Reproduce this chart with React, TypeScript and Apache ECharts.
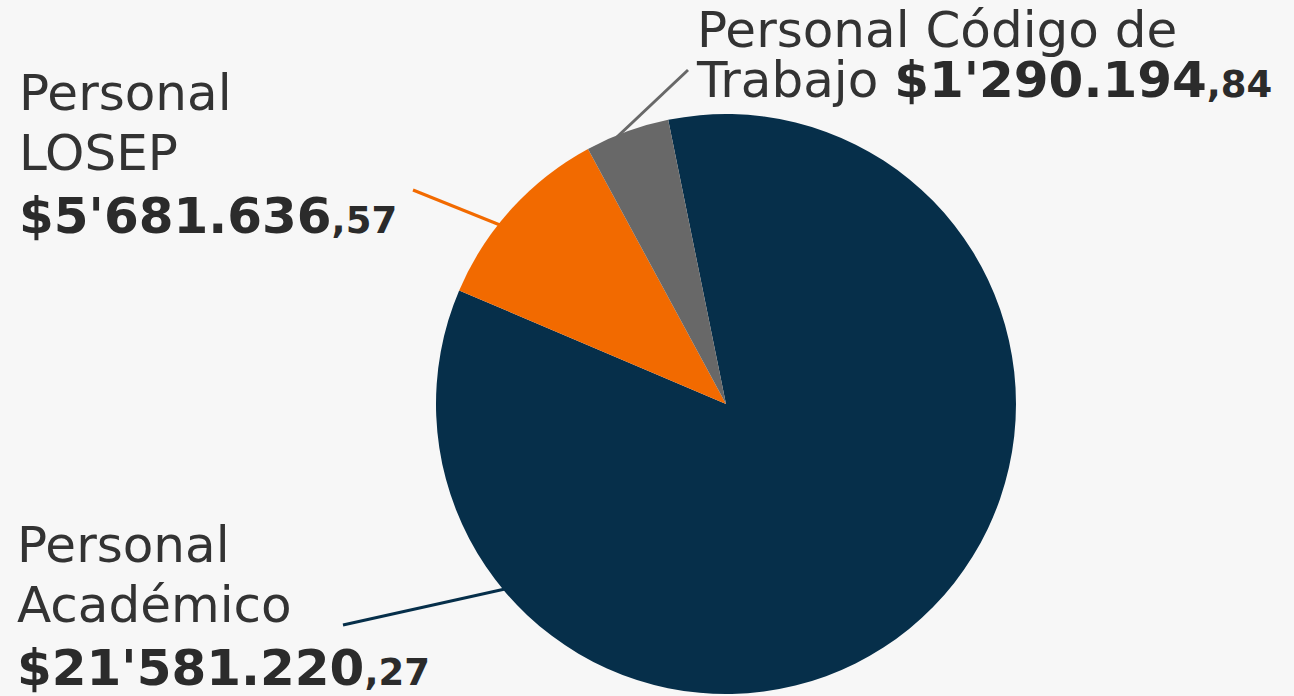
import React, { useEffect, useRef } from "react";
import * as echarts from "echarts";

// Categories (two-line names as printed)
const categories = ["Personal\nAcadémico", "Personal\nLOSEP", "Personal Código de\nTrabajo"];
// Amounts printed in the labels
const amountMain = ["$21'581.220", "$5'681.636", "$1'290.194"];
const amountCents = [",27", ",57", ",84"];
// Slice shares (%)
const sliceShare = [84.6, 10.7, 4.7];
const colors = ["#062f4a", "#f26a00", "#686868"];

// Label placement (layout only)
const labelPos = [
  { x: 17, y: 515, line: [[505, 589], [343, 625], [343, 625]] },
  { x: 19, y: 63, line: [[500, 225], [413, 190], [413, 190]] },
  { x: 697, y: 5, line: [[617, 137], [688, 70], [688, 70]] },
];

const FONT = "DejaVu Sans";
const TXT = "#333333";
const BOLD_TXT = "#2b2b2b";

export default function App() {
  const ref = useRef<HTMLDivElement>(null);
  useEffect(() => {
    document.body.style.margin = "0";
    const chart = echarts.init(ref.current!, undefined, { renderer: "svg" });
    const data = categories.map((name, i) => ({
      name,
      value: sliceShare[i],
      itemStyle: { color: colors[i] },
    }));
    chart.setOption({
      animation: false,
      backgroundColor: "#f7f7f7",
      series: [
        {
          type: "pie",
          center: [726, 404],
          radius: [0, 290],
          startAngle: 101.5,
          clockwise: true,
          avoidLabelOverlap: false,
          data,
          label: {
            show: true,
            position: "outside",
            fontFamily: FONT,
            formatter: (p: any) => {
              const i = p.dataIndex;
              const lines = categories[i].split("\n");
              if (i === 2) {
                return `{nc|${lines[0]}}\n{nc|${lines[1]} }{bc|${amountMain[i]}}{sc|${amountCents[i]}}`;
              }
              return `{n|${lines[0]}}\n{n|${lines[1]}}\n{b|${amountMain[i]}}{s|${amountCents[i]}}`;
            },
            rich: {
              n: { fontFamily: FONT, fontSize: 50, lineHeight: 60, color: TXT },
              b: { fontFamily: FONT, fontSize: 50, fontWeight: "bold", lineHeight: 66, color: BOLD_TXT },
              s: { fontFamily: FONT, fontSize: 37, fontWeight: "bold", lineHeight: 66, color: BOLD_TXT, padding: [9, 0, 0, 0] },
              nc: { fontFamily: FONT, fontSize: 50, lineHeight: 50, color: TXT },
              bc: { fontFamily: FONT, fontSize: 50, fontWeight: "bold", lineHeight: 50, color: BOLD_TXT },
              sc: { fontFamily: FONT, fontSize: 37, fontWeight: "bold", lineHeight: 50, color: BOLD_TXT, padding: [9, 0, 0, 0] },
            },
          },
          labelLine: { show: true, lineStyle: { width: 3 } },
          labelLayout: (params: any) => {
            const pos = labelPos[params.dataIndex];
            return {
              x: pos.x,
              y: pos.y,
              align: "left",
              verticalAlign: "top",
              labelLinePoints: pos.line,
            };
          },
          emphasis: { disabled: true },
        },
      ],
    });
    return () => chart.dispose();
  }, []);
  return <div ref={ref} style={{ width: 1294, height: 696 }} />;
}
